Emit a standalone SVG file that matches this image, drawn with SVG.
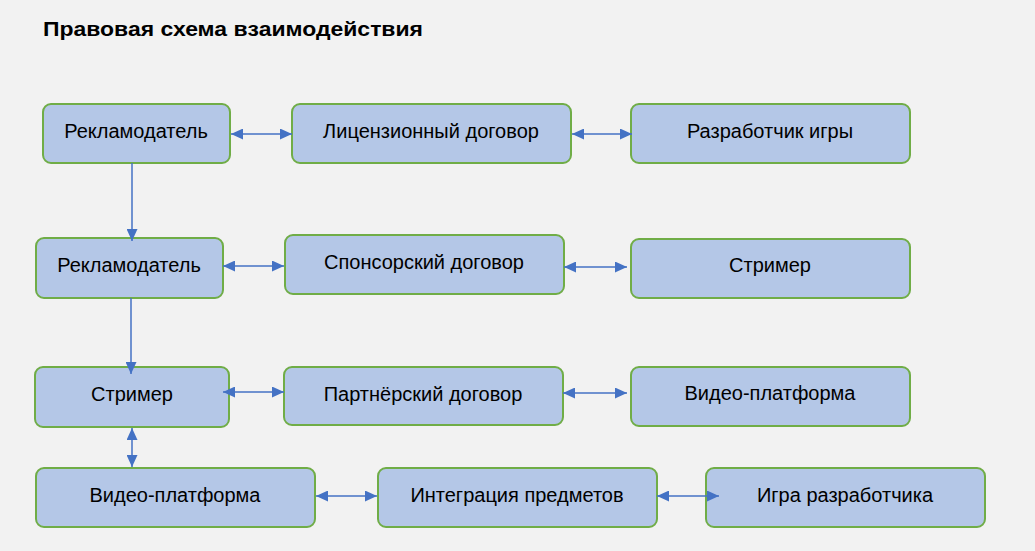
<svg xmlns="http://www.w3.org/2000/svg" width="1035" height="551" viewBox="0 0 1035 551">
<style>
.box{fill:#B4C7E7;stroke:#70AD47;stroke-width:2}
.lbl{font-family:"Liberation Sans",Arial,sans-serif;font-size:20px;fill:#000;text-anchor:middle}
.title{font-family:"Liberation Sans",Arial,sans-serif;font-size:21px;font-weight:bold;fill:#000}
.con{stroke:#4472C4;stroke-width:1.5;fill:none}
</style>
<defs>
<marker id="ah" markerUnits="userSpaceOnUse" markerWidth="12" markerHeight="11" refX="12" refY="5.5" orient="auto-start-reverse" viewBox="0 0 12 11">
<path d="M0,0 L12,5.5 L0,11 z" fill="#4472C4"/>
</marker>
</defs>
<rect x="0" y="0" width="1035" height="551" fill="#F2F2F2"/>
<text class="title" x="43" y="36" textLength="380" lengthAdjust="spacingAndGlyphs">Правовая схема взаимодействия</text>

<g id="n1"><rect class="box" x="43" y="104" width="187" height="59" rx="8"/><text class="lbl" x="136" y="138">Рекламодатель</text></g>
<g id="n2"><rect class="box" x="292" y="104" width="279" height="59" rx="8"/><text class="lbl" x="431" y="138">Лицензионный договор</text></g>
<g id="n3"><rect class="box" x="631" y="104" width="279" height="59" rx="8"/><text class="lbl" x="770" y="138">Разработчик игры</text></g>

<g id="n4"><rect class="box" x="36" y="238" width="187" height="60" rx="8"/><text class="lbl" x="129" y="272">Рекламодатель</text></g>
<g id="n5"><rect class="box" x="285" y="235" width="279" height="59" rx="8"/><text class="lbl" x="424" y="269">Спонсорский договор</text></g>
<g id="n6"><rect class="box" x="631" y="239" width="279" height="59" rx="8"/><text class="lbl" x="770" y="272">Стример</text></g>

<g id="n7"><rect class="box" x="35" y="367" width="194" height="60" rx="8"/><text class="lbl" x="132" y="401">Стример</text></g>
<g id="n8"><rect class="box" x="284" y="367" width="279" height="58" rx="8"/><text class="lbl" x="423" y="401">Партнёрский договор</text></g>
<g id="n9"><rect class="box" x="631" y="367" width="279" height="59" rx="8"/><text class="lbl" x="770" y="400">Видео-платформа</text></g>

<g id="n10"><rect class="box" x="36" y="468" width="279" height="59" rx="8"/><text class="lbl" x="175" y="502">Видео-платформа</text></g>
<g id="n11"><rect class="box" x="378" y="468" width="279" height="59" rx="8"/><text class="lbl" x="517" y="502">Интеграция предметов</text></g>
<g id="n12"><rect class="box" x="706" y="468" width="279" height="59" rx="8"/><text class="lbl" x="845" y="502">Игра разработчика</text></g>

<g id="connectors">
<line class="con" x1="231" y1="134" x2="292" y2="134" marker-start="url(#ah)" marker-end="url(#ah)"/>
<line class="con" x1="572" y1="134" x2="632" y2="134" marker-start="url(#ah)" marker-end="url(#ah)"/>
<line class="con" x1="132" y1="163" x2="132" y2="241" marker-end="url(#ah)"/>
<line class="con" x1="223" y1="266" x2="284" y2="266" marker-start="url(#ah)" marker-end="url(#ah)"/>
<line class="con" x1="564" y1="267" x2="627" y2="267" marker-start="url(#ah)" marker-end="url(#ah)"/>
<line class="con" x1="131" y1="298" x2="131" y2="374" marker-end="url(#ah)"/>
<line class="con" x1="223" y1="392" x2="284" y2="392" marker-start="url(#ah)" marker-end="url(#ah)"/>
<line class="con" x1="563" y1="393" x2="627" y2="393" marker-start="url(#ah)" marker-end="url(#ah)"/>
<line class="con" x1="132" y1="428" x2="132" y2="467" marker-start="url(#ah)" marker-end="url(#ah)"/>
<line class="con" x1="316" y1="496" x2="377" y2="496" marker-start="url(#ah)" marker-end="url(#ah)"/>
<line class="con" x1="657" y1="496" x2="719" y2="496" marker-start="url(#ah)" marker-end="url(#ah)"/>
</g>
</svg>
